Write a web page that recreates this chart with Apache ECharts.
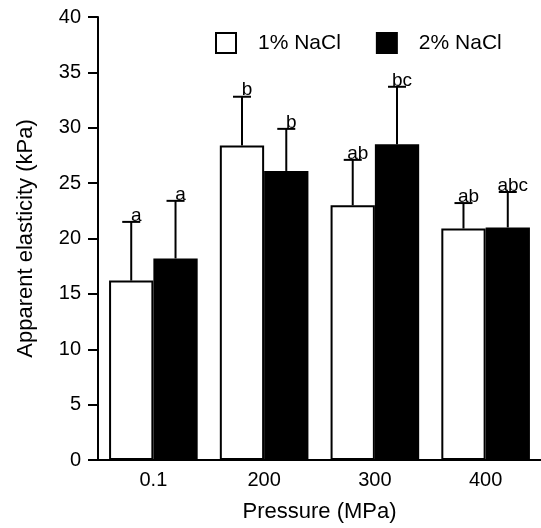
<!DOCTYPE html>
<html>
<head>
<meta charset="utf-8">
<script src="https://cdn.jsdelivr.net/npm/echarts@6/dist/echarts.min.js"></script>
<style>
  html, body { margin: 0; padding: 0; background: #fff; }
  #chart { width: 541px; height: 528px; }
</style>
</head>
<body>
<div id="chart"></div>
<script>
// pressure levels (MPa)
const pressures = ['0.1', '200', '300', '400'];
// mean apparent elasticity (kPa)
const nacl1Mean = [16.2, 28.4, 23.0, 20.9];
const nacl2Mean = [18.2, 26.1, 28.5, 21.0];
// standard deviation (upper whisker only)
const nacl1Sd = [5.3, 4.4, 4.1, 2.3];
const nacl2Sd = [5.2, 3.8, 5.2, 3.2];
// significance letters
const nacl1Letters = ['a', 'b', 'ab', 'ab'];
const nacl2Letters = ['a', 'b', 'bc', 'abc'];

const FONT = 'Liberation Sans';
const BAR_FRAC = 0.4; // each bar is 40% of the category band

function errorSeries(means, sds, letters, side) {
  return {
    type: 'custom',
    z: 3,
    silent: true,
    data: means.map((m, i) => [i, m, sds[i], letters[i]]),
    renderItem: function (params, api) {
      const idx = api.value(0);
      const mean = api.value(1);
      const sd = api.value(2);
      const band = api.size([1, 0])[0];
      const base = api.coord([idx, mean]);
      const top = api.coord([idx, mean + sd]);
      const x = base[0] + side * band * BAR_FRAC / 2;
      const capHalf = 9;
      const stroke = { stroke: '#000', lineWidth: 2 };
      return {
        type: 'group',
        children: [
          { type: 'line', shape: { x1: x, y1: base[1], x2: x, y2: top[1] }, style: stroke },
          { type: 'line', shape: { x1: x - capHalf, y1: top[1], x2: x + capHalf, y2: top[1] }, style: stroke },
          {
            type: 'text',
            style: {
              text: letters[idx],
              x: x + 5,
              y: top[1] + 3,
              align: 'center',
              verticalAlign: 'bottom',
              font: '19px "' + FONT + '"',
              fill: '#000'
            }
          }
        ]
      };
    }
  };
}

const chart = echarts.init(document.getElementById('chart'), null, { renderer: 'canvas' });

const option = {
  animation: false,
  backgroundColor: '#fff',
  textStyle: { fontFamily: FONT, color: '#000' },
  grid: { left: 98, right: 0, top: 17, bottom: 66 },
  legend: {
    data: ['1% NaCl', '2% NaCl'],
    left: 215,
    top: 32,
    padding: 0,
    icon: 'rect',
    itemWidth: 20,
    itemHeight: 20,
    itemGap: 35,
    textStyle: { fontFamily: FONT, fontSize: 21, color: '#000', padding: [0, 0, 0, 17] }
  },
  xAxis: {
    type: 'category',
    data: pressures,
    name: 'Pressure (MPa)',
    nameLocation: 'middle',
    nameGap: 41,
    nameTextStyle: { fontFamily: FONT, fontSize: 22, color: '#000' },
    axisLine: { lineStyle: { color: '#000', width: 2 } },
    axisTick: { show: false },
    axisLabel: { fontFamily: FONT, fontSize: 20, color: '#000', margin: 10 },
    splitLine: { show: false }
  },
  yAxis: {
    type: 'value',
    min: 0,
    max: 40,
    interval: 5,
    name: 'Apparent elasticity (kPa)',
    nameLocation: 'middle',
    nameGap: 61,
    nameTextStyle: { fontFamily: FONT, fontSize: 22, color: '#000' },
    axisLine: { show: true, lineStyle: { color: '#000', width: 2 } },
    axisTick: { show: true, length: 10, lineStyle: { color: '#000', width: 2 } },
    axisLabel: { fontFamily: FONT, fontSize: 20, color: '#000', margin: 17 },
    splitLine: { show: false }
  },
  series: [
    {
      name: '1% NaCl',
      type: 'bar',
      data: nacl1Mean,
      barWidth: '40%',
      barGap: '0%',
      itemStyle: { color: '#fff', borderColor: '#000', borderWidth: 2 }
    },
    {
      name: '2% NaCl',
      type: 'bar',
      data: nacl2Mean,
      barWidth: '40%',
      barGap: '0%',
      itemStyle: { color: '#000', borderColor: '#000', borderWidth: 2 }
    },
    errorSeries(nacl1Mean, nacl1Sd, nacl1Letters, -1),
    errorSeries(nacl2Mean, nacl2Sd, nacl2Letters, 1)
  ]
};

chart.setOption(option);
</script>
</body>
</html>
